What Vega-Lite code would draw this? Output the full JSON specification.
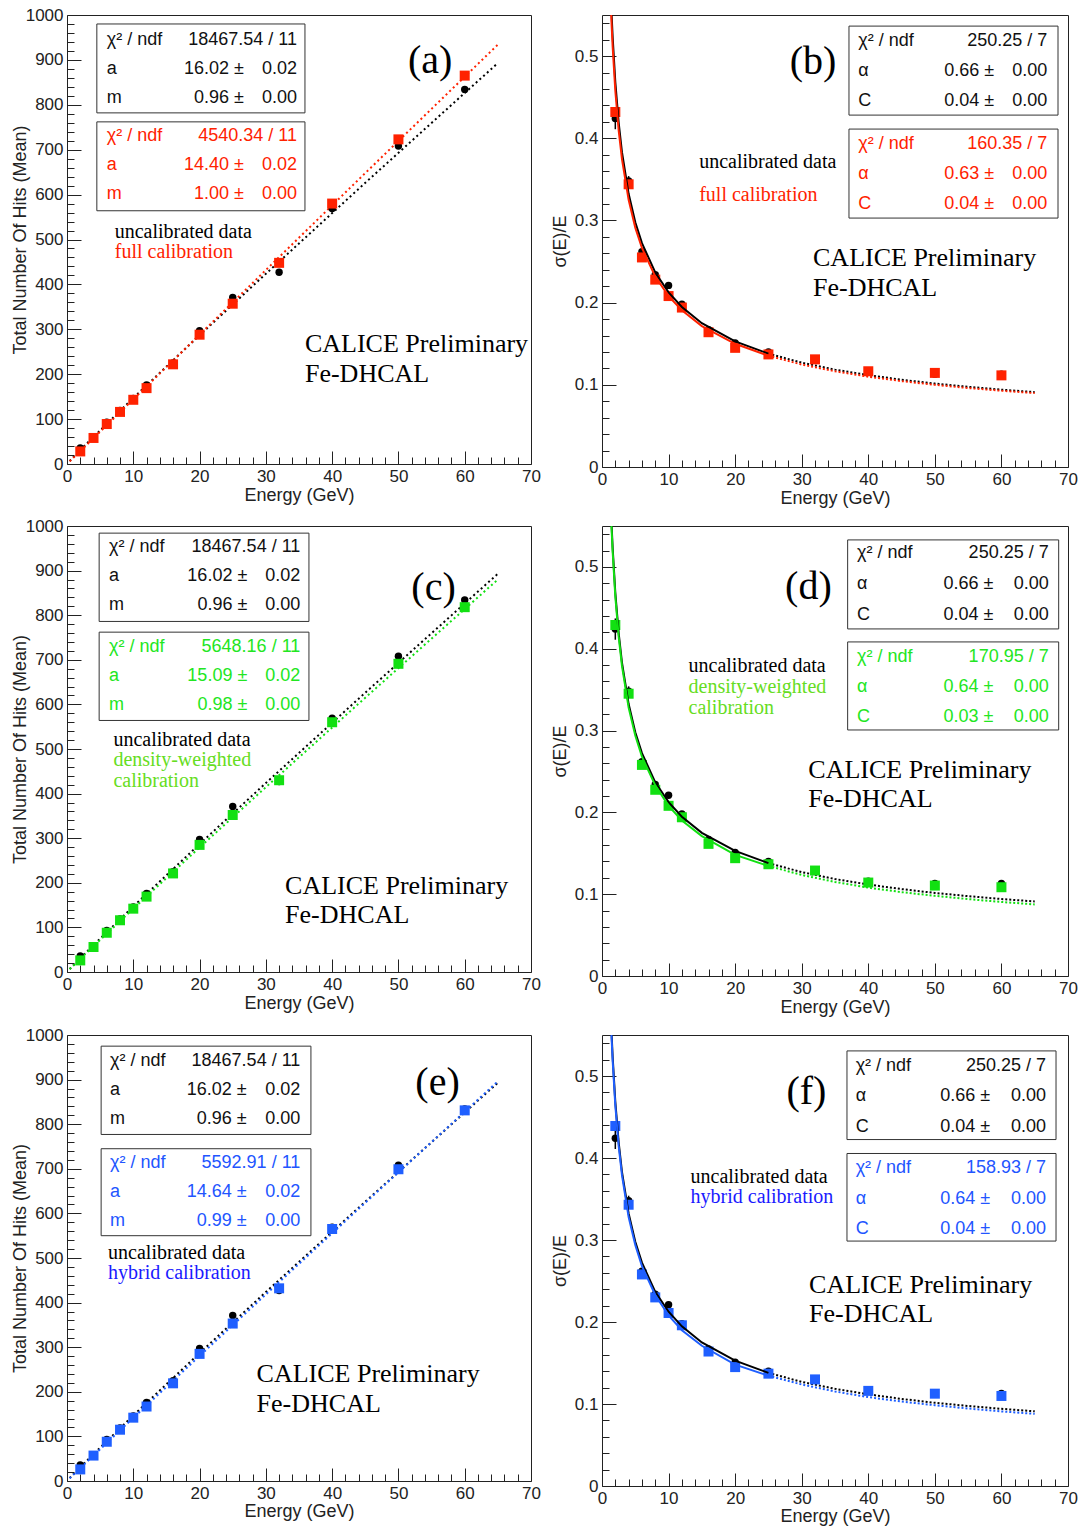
{
"$schema": "https://vega.github.io/schema/vega-lite/v6.json",
"background": "white",
"padding": {"left": 10, "top": 5, "right": 5, "bottom": 0},
"datasets": {
"uncal_lin": [{"E":2,"v":36},{"E":4,"v":59},{"E":6,"v":93},{"E":8,"v":119},{"E":10,"v":146},{"E":12,"v":176},{"E":16,"v":225},{"E":20,"v":297},{"E":25,"v":371},{"E":32,"v":427},{"E":40,"v":569},{"E":50,"v":708},{"E":60,"v":834}],
"full_lin": [{"E":2,"v":28},{"E":4,"v":58},{"E":6,"v":89},{"E":8,"v":116},{"E":10,"v":143},{"E":12,"v":169},{"E":16,"v":222},{"E":20,"v":288},{"E":25,"v":357},{"E":32,"v":448},{"E":40,"v":580},{"E":50,"v":723},{"E":60,"v":865}],
"dens_lin": [{"E":2,"v":26},{"E":4,"v":56},{"E":6,"v":88},{"E":8,"v":116},{"E":10,"v":142},{"E":12,"v":169},{"E":16,"v":221},{"E":20,"v":285},{"E":25,"v":352},{"E":32,"v":430},{"E":40,"v":560},{"E":50,"v":691},{"E":60,"v":818}],
"hyb_lin": [{"E":2,"v":26},{"E":4,"v":57},{"E":6,"v":88},{"E":8,"v":115},{"E":10,"v":142},{"E":12,"v":167},{"E":16,"v":219},{"E":20,"v":285},{"E":25,"v":353},{"E":32,"v":432},{"E":40,"v":565},{"E":50,"v":699},{"E":60,"v":831}],
"uncal_res": [{"E":2,"v":0.424,"lo":0.411,"hi":0.437},{"E":4,"v":0.348,"lo":0.342,"hi":0.354},{"E":6,"v":0.262,"lo":0.258,"hi":0.266},{"E":8,"v":0.234,"lo":0.231,"hi":0.237},{"E":10,"v":0.221,"lo":0.218,"hi":0.224},{"E":12,"v":0.198,"lo":0.195,"hi":0.201},{"E":16,"v":0.167,"lo":0.165,"hi":0.169},{"E":20,"v":0.151,"lo":0.149,"hi":0.153},{"E":25,"v":0.140,"lo":0.138,"hi":0.142},{"E":32,"v":0.130,"lo":0.128,"hi":0.132},{"E":40,"v":0.116,"lo":0.114,"hi":0.118},{"E":50,"v":0.113,"lo":0.111,"hi":0.115},{"E":60,"v":0.113,"lo":0.110,"hi":0.116}],
"full_res": [{"E":2,"v":0.432},{"E":4,"v":0.344},{"E":6,"v":0.255},{"E":8,"v":0.228},{"E":10,"v":0.208},{"E":12,"v":0.194},{"E":16,"v":0.164},{"E":20,"v":0.145},{"E":25,"v":0.137},{"E":32,"v":0.131},{"E":40,"v":0.1165},{"E":50,"v":0.1145},{"E":60,"v":0.1115}],
"dens_res": [{"E":2,"v":0.429},{"E":4,"v":0.345},{"E":6,"v":0.258},{"E":8,"v":0.2276},{"E":10,"v":0.208},{"E":12,"v":0.194},{"E":16,"v":0.1615},{"E":20,"v":0.144},{"E":25,"v":0.1366},{"E":32,"v":0.1289},{"E":40,"v":0.1142},{"E":50,"v":0.1105},{"E":60,"v":0.1085}],
"hyb_res": [{"E":2,"v":0.439},{"E":4,"v":0.343},{"E":6,"v":0.258},{"E":8,"v":0.230},{"E":10,"v":0.211},{"E":12,"v":0.196},{"E":16,"v":0.164},{"E":20,"v":0.145},{"E":25,"v":0.137},{"E":32,"v":0.130},{"E":40,"v":0.116},{"E":50,"v":0.1126},{"E":60,"v":0.1098}],
"fit_lin": [
{"s":"uncal","E":0.4,"v":6.6},{"s":"uncal","E":2,"v":31.2},{"s":"uncal","E":10,"v":147.1},{"s":"uncal","E":20,"v":286.8},{"s":"uncal","E":30,"v":423.7},{"s":"uncal","E":45,"v":626.3},{"s":"uncal","E":65,"v":893},
{"s":"full","E":0.4,"v":5.8},{"s":"full","E":2,"v":28.8},{"s":"full","E":10,"v":144},{"s":"full","E":20,"v":288},{"s":"full","E":30,"v":432},{"s":"full","E":45,"v":648},{"s":"full","E":65,"v":934},
{"s":"dens","E":0.4,"v":6.2},{"s":"dens","E":2,"v":29.7},{"s":"dens","E":10,"v":142.1},{"s":"dens","E":20,"v":279.2},{"s":"dens","E":30,"v":414.4},{"s":"dens","E":45,"v":615.1},{"s":"dens","E":65,"v":880},
{"s":"hyb","E":0.4,"v":5.9},{"s":"hyb","E":2,"v":29.0},{"s":"hyb","E":10,"v":141.7},{"s":"hyb","E":20,"v":280.5},{"s":"hyb","E":30,"v":418.4},{"s":"hyb","E":45,"v":624.0},{"s":"hyb","E":65,"v":896}],
"fit_res": [
{"s":"uncal","p":"solid","E":1.3,"v":0.5802},{"s":"uncal","p":"solid","E":1.45,"v":0.5496},{"s":"uncal","p":"solid","E":1.6,"v":0.5233},{"s":"uncal","p":"solid","E":2,"v":0.4684},{"s":"uncal","p":"solid","E":2.5,"v":0.4193},{"s":"uncal","p":"solid","E":3,"v":0.3831},{"s":"uncal","p":"solid","E":4,"v":0.3324},{"s":"uncal","p":"solid","E":5,"v":0.2979},{"s":"uncal","p":"solid","E":6,"v":0.2724},{"s":"uncal","p":"solid","E":8,"v":0.2367},{"s":"uncal","p":"solid","E":10,"v":0.2125},{"s":"uncal","p":"solid","E":12,"v":0.1947},{"s":"uncal","p":"solid","E":15,"v":0.175},{"s":"uncal","p":"solid","E":20,"v":0.1529},{"s":"uncal","p":"solid","E":25,"v":0.1379},
{"s":"uncal","p":"dot","E":25,"v":0.1379},{"s":"uncal","p":"dot","E":30,"v":0.127},{"s":"uncal","p":"dot","E":35,"v":0.1185},{"s":"uncal","p":"dot","E":40,"v":0.1118},{"s":"uncal","p":"dot","E":45,"v":0.1062},{"s":"uncal","p":"dot","E":50,"v":0.1015},{"s":"uncal","p":"dot","E":55,"v":0.0976},{"s":"uncal","p":"dot","E":60,"v":0.0941},{"s":"uncal","p":"dot","E":65,"v":0.0911},
{"s":"full","p":"solid","E":1.3,"v":0.5672},{"s":"full","p":"solid","E":1.45,"v":0.5372},{"s":"full","p":"solid","E":1.6,"v":0.5115},{"s":"full","p":"solid","E":2,"v":0.4579},{"s":"full","p":"solid","E":2.5,"v":0.41},{"s":"full","p":"solid","E":3,"v":0.3746},{"s":"full","p":"solid","E":4,"v":0.3251},{"s":"full","p":"solid","E":5,"v":0.2913},{"s":"full","p":"solid","E":6,"v":0.2665},{"s":"full","p":"solid","E":8,"v":0.2317},{"s":"full","p":"solid","E":10,"v":0.208},{"s":"full","p":"solid","E":12,"v":0.1907},{"s":"full","p":"solid","E":15,"v":0.1715},{"s":"full","p":"solid","E":20,"v":0.1499},{"s":"full","p":"solid","E":25,"v":0.1354},
{"s":"full","p":"dot","E":25,"v":0.1354},{"s":"full","p":"dot","E":30,"v":0.1247},{"s":"full","p":"dot","E":35,"v":0.1165},{"s":"full","p":"dot","E":40,"v":0.1099},{"s":"full","p":"dot","E":45,"v":0.1045},{"s":"full","p":"dot","E":50,"v":0.1},{"s":"full","p":"dot","E":55,"v":0.0961},{"s":"full","p":"dot","E":60,"v":0.0928},{"s":"full","p":"dot","E":65,"v":0.0899},
{"s":"dens","p":"solid","E":1.3,"v":0.575},{"s":"dens","p":"solid","E":1.45,"v":0.545},{"s":"dens","p":"solid","E":1.6,"v":0.519},{"s":"dens","p":"solid","E":2,"v":0.464},{"s":"dens","p":"solid","E":2.5,"v":0.415},{"s":"dens","p":"solid","E":3,"v":0.379},{"s":"dens","p":"solid","E":4,"v":0.328},{"s":"dens","p":"solid","E":5,"v":0.294},{"s":"dens","p":"solid","E":6,"v":0.268},{"s":"dens","p":"solid","E":8,"v":0.233},{"s":"dens","p":"solid","E":10,"v":0.208},{"s":"dens","p":"solid","E":12,"v":0.19},{"s":"dens","p":"solid","E":15,"v":0.171},{"s":"dens","p":"solid","E":20,"v":0.148},{"s":"dens","p":"solid","E":25,"v":0.1345},
{"s":"dens","p":"dot","E":25,"v":0.1345},{"s":"dens","p":"dot","E":30,"v":0.1235},{"s":"dens","p":"dot","E":35,"v":0.115},{"s":"dens","p":"dot","E":40,"v":0.108},{"s":"dens","p":"dot","E":45,"v":0.1025},{"s":"dens","p":"dot","E":50,"v":0.098},{"s":"dens","p":"dot","E":55,"v":0.094},{"s":"dens","p":"dot","E":60,"v":0.0905},{"s":"dens","p":"dot","E":65,"v":0.0875},
{"s":"hyb","p":"solid","E":1.3,"v":0.575},{"s":"hyb","p":"solid","E":1.45,"v":0.545},{"s":"hyb","p":"solid","E":1.6,"v":0.519},{"s":"hyb","p":"solid","E":2,"v":0.464},{"s":"hyb","p":"solid","E":2.5,"v":0.415},{"s":"hyb","p":"solid","E":3,"v":0.379},{"s":"hyb","p":"solid","E":4,"v":0.328},{"s":"hyb","p":"solid","E":5,"v":0.294},{"s":"hyb","p":"solid","E":6,"v":0.268},{"s":"hyb","p":"solid","E":8,"v":0.233},{"s":"hyb","p":"solid","E":10,"v":0.208},{"s":"hyb","p":"solid","E":12,"v":0.19},{"s":"hyb","p":"solid","E":15,"v":0.171},{"s":"hyb","p":"solid","E":20,"v":0.148},{"s":"hyb","p":"solid","E":25,"v":0.1345},
{"s":"hyb","p":"dot","E":25,"v":0.1345},{"s":"hyb","p":"dot","E":30,"v":0.1238},{"s":"hyb","p":"dot","E":35,"v":0.1153},{"s":"hyb","p":"dot","E":40,"v":0.1084},{"s":"hyb","p":"dot","E":45,"v":0.103},{"s":"hyb","p":"dot","E":50,"v":0.0985},{"s":"hyb","p":"dot","E":55,"v":0.0945},{"s":"hyb","p":"dot","E":60,"v":0.091},{"s":"hyb","p":"dot","E":65,"v":0.088}]
},
"columns": 2,
"spacing": {"row": 59, "column": 71},
"bounds": "flush",
"concat": [
{"width": 464, "height": 449,
 "layer": [
  {"data": {"name": "fit_lin"}, "transform": [{"filter": "datum.s === 'uncal'"}], "mark": {"type": "line", "color": "#000", "strokeWidth": 2, "strokeDash": [2,3], "clip": true},
   "encoding": {
    "x": {"field": "E", "type": "quantitative", "scale": {"domain": [0,70], "nice": false}, "axis": {"title": "Energy (GeV)", "values": [0,2,4,6,8,10,12,14,16,18,20,22,24,26,28,30,32,34,36,38,40,42,44,46,48,50,52,54,56,58,60,62,64,66,68,70], "tickCount": 200, "format": "d", "labelOverlap": false, "labelExpr": "datum.value % 10 === 0 ? datum.label : ''", "tickSize": {"condition": {"test": "datum.value % 10 === 0", "value": -13}, "value": -7}, "labelPadding": 17, "titlePadding": -4}},
    "y": {"field": "v", "type": "quantitative", "scale": {"domain": [0,1000], "nice": false}, "axis": {"title": "Total Number Of Hits (Mean)", "values": [0,20,40,60,80,100,120,140,160,180,200,220,240,260,280,300,320,340,360,380,400,420,440,460,480,500,520,540,560,580,600,620,640,660,680,700,720,740,760,780,800,820,840,860,880,900,920,940,960,980,1000], "tickCount": 200, "format": "d", "labelOverlap": false, "labelExpr": "datum.value % 100 === 0 ? datum.label : ''", "tickSize": {"condition": {"test": "datum.value % 100 === 0", "value": -14}, "value": -7}, "labelPadding": 18, "titlePadding": -4}}}},
  {"data": {"name": "fit_lin"}, "transform": [{"filter": "datum.s === 'full'"}], "mark": {"type": "line", "color": "#ff2200", "strokeWidth": 2, "strokeDash": [2,3], "clip": true}, "encoding": {"x": {"field": "E", "type": "quantitative"}, "y": {"field": "v", "type": "quantitative"}}},
  {"data": {"name": "uncal_lin"}, "mark": {"type": "point", "shape": "circle", "filled": true, "color": "#000", "size": 55, "opacity": 1}, "encoding": {"x": {"field": "E", "type": "quantitative"}, "y": {"field": "v", "type": "quantitative"}}},
  {"data": {"name": "full_lin"}, "mark": {"type": "point", "shape": "square", "filled": true, "color": "#ff2200", "size": 100, "opacity": 1}, "encoding": {"x": {"field": "E", "type": "quantitative"}, "y": {"field": "v", "type": "quantitative"}}},
  {"data": {"values": [{}]}, "mark": {"type": "rect", "fill": "#fff", "stroke": "#333", "strokeWidth": 1}, "encoding": {"x": {"datum": 4.5}, "x2": {"datum": 35.9}, "y": {"datum": 980}, "y2": {"datum": 782}}},
  {"data": {"values": [{}]}, "mark": {"type": "rect", "fill": "#fff", "stroke": "#333", "strokeWidth": 1}, "encoding": {"x": {"datum": 4.5}, "x2": {"datum": 35.9}, "y": {"datum": 762}, "y2": {"datum": 564}}},
  {"data": {"values": [{}]}, "mark": {"type": "text", "align": "left", "baseline": "middle", "font": "Liberation Sans", "fontSize": 18, "lineHeight": 29, "color": "#111", "text": ["χ² / ndf", "a", "m"]}, "encoding": {"x": {"datum": 6.0}, "y": {"datum": 944}}},
  {"data": {"values": [{}]}, "mark": {"type": "text", "align": "right", "baseline": "middle", "font": "Liberation Sans", "fontSize": 18, "lineHeight": 29, "color": "#111", "text": ["", "16.02 ±", "0.96 ±"]}, "encoding": {"x": {"datum": 26.7}, "y": {"datum": 944}}},
  {"data": {"values": [{}]}, "mark": {"type": "text", "align": "right", "baseline": "middle", "font": "Liberation Sans", "fontSize": 18, "lineHeight": 29, "color": "#111", "text": ["18467.54 / 11", "0.02", "0.00"]}, "encoding": {"x": {"datum": 34.7}, "y": {"datum": 944}}},
  {"data": {"values": [{}]}, "mark": {"type": "text", "align": "left", "baseline": "middle", "font": "Liberation Sans", "fontSize": 18, "lineHeight": 29, "color": "#ff2200", "text": ["χ² / ndf", "a", "m"]}, "encoding": {"x": {"datum": 6.0}, "y": {"datum": 730}}},
  {"data": {"values": [{}]}, "mark": {"type": "text", "align": "right", "baseline": "middle", "font": "Liberation Sans", "fontSize": 18, "lineHeight": 29, "color": "#ff2200", "text": ["", "14.40 ±", "1.00 ±"]}, "encoding": {"x": {"datum": 26.7}, "y": {"datum": 730}}},
  {"data": {"values": [{}]}, "mark": {"type": "text", "align": "right", "baseline": "middle", "font": "Liberation Sans", "fontSize": 18, "lineHeight": 29, "color": "#ff2200", "text": ["4540.34 / 11", "0.02", "0.00"]}, "encoding": {"x": {"datum": 34.7}, "y": {"datum": 730}}},
  {"data": {"values": [{}]}, "mark": {"type": "text", "align": "left", "baseline": "middle", "font": "Liberation Serif", "fontSize": 20, "color": "#000", "text": "uncalibrated data"}, "encoding": {"x": {"datum": 7.2}, "y": {"datum": 517}}},
  {"data": {"values": [{}]}, "mark": {"type": "text", "align": "left", "baseline": "middle", "font": "Liberation Serif", "fontSize": 20, "color": "#ff2200", "text": "full calibration"}, "encoding": {"x": {"datum": 7.2}, "y": {"datum": 472}}},
  {"data": {"values": [{}]}, "mark": {"type": "text", "align": "left", "baseline": "middle", "font": "Liberation Serif", "fontSize": 26, "lineHeight": 30, "color": "#000", "text": ["CALICE Preliminary", "Fe-DHCAL"]}, "encoding": {"x": {"datum": 35.9}, "y": {"datum": 267}}},
  {"data": {"values": [{}]}, "mark": {"type": "text", "align": "center", "baseline": "middle", "font": "Liberation Serif", "fontSize": 40, "color": "#000", "text": "(a)"}, "encoding": {"x": {"datum": 54.8}, "y": {"datum": 897}}}
 ]
},
{"width": 466, "height": 452,
 "layer": [
  {"data": {"name": "fit_res"}, "transform": [{"filter": "datum.s === 'uncal' && datum.p === 'dot'"}], "mark": {"type": "line", "color": "#000", "strokeWidth": 2, "strokeDash": [2,2], "clip": true},
   "encoding": {
    "x": {"field": "E", "type": "quantitative", "scale": {"domain": [0,70], "nice": false}, "axis": {"title": "Energy (GeV)", "values": [0,2,4,6,8,10,12,14,16,18,20,22,24,26,28,30,32,34,36,38,40,42,44,46,48,50,52,54,56,58,60,62,64,66,68,70], "tickCount": 200, "format": "d", "labelOverlap": false, "labelExpr": "datum.value % 10 === 0 ? datum.label : ''", "tickSize": {"condition": {"test": "datum.value % 10 === 0", "value": -13}, "value": -7}, "labelPadding": 17, "titlePadding": -4}},
    "y": {"field": "v", "type": "quantitative", "scale": {"domain": [0,0.55], "nice": false}, "axis": {"title": "σ(E)/E", "values": [0,0.02,0.04,0.06,0.08,0.1,0.12,0.14,0.16,0.18,0.2,0.22,0.24,0.26,0.28,0.3,0.32,0.34,0.36,0.38,0.4,0.42,0.44,0.46,0.48,0.5,0.52,0.54], "tickCount": 200, "format": ".1~f", "labelOverlap": false, "labelExpr": "abs(datum.value*10 - round(datum.value*10)) < 0.001 ? datum.label : ''", "tickSize": {"condition": {"test": "abs(datum.value*10 - round(datum.value*10)) < 0.001", "value": -14}, "value": -7}, "labelPadding": 18, "titlePadding": 5}}}},
  {"data": {"name": "fit_res"}, "transform": [{"filter": "datum.s === 'full' && datum.p === 'dot'"}], "mark": {"type": "line", "color": "#ff2200", "strokeWidth": 2, "strokeDash": [2,2], "clip": true}, "encoding": {"x": {"field": "E", "type": "quantitative"}, "y": {"field": "v", "type": "quantitative"}}},
  {"data": {"name": "uncal_res"}, "mark": {"type": "rule", "color": "#000", "strokeWidth": 1.5}, "encoding": {"x": {"field": "E", "type": "quantitative"}, "y": {"field": "lo", "type": "quantitative"}, "y2": {"field": "hi"}}},
  {"data": {"name": "uncal_res"}, "mark": {"type": "point", "shape": "circle", "filled": true, "color": "#000", "size": 55, "opacity": 1}, "encoding": {"x": {"field": "E", "type": "quantitative"}, "y": {"field": "v", "type": "quantitative"}}},
  {"data": {"name": "full_res"}, "mark": {"type": "point", "shape": "square", "filled": true, "color": "#ff2200", "size": 100, "opacity": 1}, "encoding": {"x": {"field": "E", "type": "quantitative"}, "y": {"field": "v", "type": "quantitative"}}},
  {"data": {"name": "fit_res"}, "transform": [{"filter": "datum.s === 'uncal' && datum.p === 'solid'"}], "mark": {"type": "line", "color": "#000", "strokeWidth": 2, "clip": true}, "encoding": {"x": {"field": "E", "type": "quantitative"}, "y": {"field": "v", "type": "quantitative"}}},
  {"data": {"name": "fit_res"}, "transform": [{"filter": "datum.s === 'full' && datum.p === 'solid'"}], "mark": {"type": "line", "color": "#ff2200", "strokeWidth": 2, "clip": true}, "encoding": {"x": {"field": "E", "type": "quantitative"}, "y": {"field": "v", "type": "quantitative"}}},
  {"data": {"values": [{}]}, "mark": {"type": "rect", "fill": "#fff", "stroke": "#333", "strokeWidth": 1}, "encoding": {"x": {"datum": 37.1}, "x2": {"datum": 68.5}, "y": {"datum": 0.5365}, "y2": {"datum": 0.4282}}},
  {"data": {"values": [{}]}, "mark": {"type": "rect", "fill": "#fff", "stroke": "#333", "strokeWidth": 1}, "encoding": {"x": {"datum": 37.1}, "x2": {"datum": 68.5}, "y": {"datum": 0.4112}, "y2": {"datum": 0.3029}}},
  {"data": {"values": [{}]}, "mark": {"type": "text", "align": "left", "baseline": "middle", "font": "Liberation Sans", "fontSize": 18, "lineHeight": 30, "color": "#111", "text": ["χ² / ndf", "α", "C"]}, "encoding": {"x": {"datum": 38.5}, "y": {"datum": 0.5182}}},
  {"data": {"values": [{}]}, "mark": {"type": "text", "align": "right", "baseline": "middle", "font": "Liberation Sans", "fontSize": 18, "lineHeight": 30, "color": "#111", "text": ["", "0.66 ±", "0.04 ±"]}, "encoding": {"x": {"datum": 58.9}, "y": {"datum": 0.5182}}},
  {"data": {"values": [{}]}, "mark": {"type": "text", "align": "right", "baseline": "middle", "font": "Liberation Sans", "fontSize": 18, "lineHeight": 30, "color": "#111", "text": ["250.25 / 7", "0.00", "0.00"]}, "encoding": {"x": {"datum": 66.9}, "y": {"datum": 0.5182}}},
  {"data": {"values": [{}]}, "mark": {"type": "text", "align": "left", "baseline": "middle", "font": "Liberation Sans", "fontSize": 18, "lineHeight": 30, "color": "#ff2200", "text": ["χ² / ndf", "α", "C"]}, "encoding": {"x": {"datum": 38.5}, "y": {"datum": 0.3929}}},
  {"data": {"values": [{}]}, "mark": {"type": "text", "align": "right", "baseline": "middle", "font": "Liberation Sans", "fontSize": 18, "lineHeight": 30, "color": "#ff2200", "text": ["", "0.63 ±", "0.04 ±"]}, "encoding": {"x": {"datum": 58.9}, "y": {"datum": 0.3929}}},
  {"data": {"values": [{}]}, "mark": {"type": "text", "align": "right", "baseline": "middle", "font": "Liberation Sans", "fontSize": 18, "lineHeight": 30, "color": "#ff2200", "text": ["160.35 / 7", "0.00", "0.00"]}, "encoding": {"x": {"datum": 66.9}, "y": {"datum": 0.3929}}},
  {"data": {"values": [{}]}, "mark": {"type": "text", "align": "left", "baseline": "middle", "font": "Liberation Serif", "fontSize": 20, "color": "#000", "text": "uncalibrated data"}, "encoding": {"x": {"datum": 14.6}, "y": {"datum": 0.371}}},
  {"data": {"values": [{}]}, "mark": {"type": "text", "align": "left", "baseline": "middle", "font": "Liberation Serif", "fontSize": 20, "color": "#ff2200", "text": "full calibration"}, "encoding": {"x": {"datum": 14.6}, "y": {"datum": 0.331}}},
  {"data": {"values": [{}]}, "mark": {"type": "text", "align": "left", "baseline": "middle", "font": "Liberation Serif", "fontSize": 26, "lineHeight": 30, "color": "#000", "text": ["CALICE Preliminary", "Fe-DHCAL"]}, "encoding": {"x": {"datum": 31.7}, "y": {"datum": 0.2543}}},
  {"data": {"values": [{}]}, "mark": {"type": "text", "align": "center", "baseline": "middle", "font": "Liberation Serif", "fontSize": 40, "color": "#000", "text": "(b)"}, "encoding": {"x": {"datum": 31.7}, "y": {"datum": 0.4927}}}
 ]
},
{"width": 464, "height": 446,
 "layer": [
  {"data": {"name": "fit_lin"}, "transform": [{"filter": "datum.s === 'uncal'"}], "mark": {"type": "line", "color": "#000", "strokeWidth": 2, "strokeDash": [2,3], "clip": true},
   "encoding": {
    "x": {"field": "E", "type": "quantitative", "scale": {"domain": [0,70], "nice": false}, "axis": {"title": "Energy (GeV)", "values": [0,2,4,6,8,10,12,14,16,18,20,22,24,26,28,30,32,34,36,38,40,42,44,46,48,50,52,54,56,58,60,62,64,66,68,70], "tickCount": 200, "format": "d", "labelOverlap": false, "labelExpr": "datum.value % 10 === 0 ? datum.label : ''", "tickSize": {"condition": {"test": "datum.value % 10 === 0", "value": -13}, "value": -7}, "labelPadding": 17, "titlePadding": -4}},
    "y": {"field": "v", "type": "quantitative", "scale": {"domain": [0,1000], "nice": false}, "axis": {"title": "Total Number Of Hits (Mean)", "values": [0,20,40,60,80,100,120,140,160,180,200,220,240,260,280,300,320,340,360,380,400,420,440,460,480,500,520,540,560,580,600,620,640,660,680,700,720,740,760,780,800,820,840,860,880,900,920,940,960,980,1000], "tickCount": 200, "format": "d", "labelOverlap": false, "labelExpr": "datum.value % 100 === 0 ? datum.label : ''", "tickSize": {"condition": {"test": "datum.value % 100 === 0", "value": -14}, "value": -7}, "labelPadding": 18, "titlePadding": -4}}}},
  {"data": {"name": "fit_lin"}, "transform": [{"filter": "datum.s === 'dens'"}], "mark": {"type": "line", "color": "#12e012", "strokeWidth": 2, "strokeDash": [2,3], "clip": true}, "encoding": {"x": {"field": "E", "type": "quantitative"}, "y": {"field": "v", "type": "quantitative"}}},
  {"data": {"name": "uncal_lin"}, "mark": {"type": "point", "shape": "circle", "filled": true, "color": "#000", "size": 55, "opacity": 1}, "encoding": {"x": {"field": "E", "type": "quantitative"}, "y": {"field": "v", "type": "quantitative"}}},
  {"data": {"name": "dens_lin"}, "mark": {"type": "point", "shape": "square", "filled": true, "color": "#12e012", "size": 100, "opacity": 1}, "encoding": {"x": {"field": "E", "type": "quantitative"}, "y": {"field": "v", "type": "quantitative"}}},
  {"data": {"values": [{}]}, "mark": {"type": "rect", "fill": "#fff", "stroke": "#333", "strokeWidth": 1}, "encoding": {"x": {"datum": 4.85}, "x2": {"datum": 36.5}, "y": {"datum": 984}, "y2": {"datum": 786}}},
  {"data": {"values": [{}]}, "mark": {"type": "rect", "fill": "#fff", "stroke": "#333", "strokeWidth": 1}, "encoding": {"x": {"datum": 4.85}, "x2": {"datum": 36.5}, "y": {"datum": 762}, "y2": {"datum": 564}}},
  {"data": {"values": [{}]}, "mark": {"type": "text", "align": "left", "baseline": "middle", "font": "Liberation Sans", "fontSize": 18, "lineHeight": 29, "color": "#111", "text": ["χ² / ndf", "a", "m"]}, "encoding": {"x": {"datum": 6.35}, "y": {"datum": 953}}},
  {"data": {"values": [{}]}, "mark": {"type": "text", "align": "right", "baseline": "middle", "font": "Liberation Sans", "fontSize": 18, "lineHeight": 29, "color": "#111", "text": ["", "16.02 ±", "0.96 ±"]}, "encoding": {"x": {"datum": 27.2}, "y": {"datum": 953}}},
  {"data": {"values": [{}]}, "mark": {"type": "text", "align": "right", "baseline": "middle", "font": "Liberation Sans", "fontSize": 18, "lineHeight": 29, "color": "#111", "text": ["18467.54 / 11", "0.02", "0.00"]}, "encoding": {"x": {"datum": 35.2}, "y": {"datum": 953}}},
  {"data": {"values": [{}]}, "mark": {"type": "text", "align": "left", "baseline": "middle", "font": "Liberation Sans", "fontSize": 18, "lineHeight": 29, "color": "#22e622", "text": ["χ² / ndf", "a", "m"]}, "encoding": {"x": {"datum": 6.35}, "y": {"datum": 728}}},
  {"data": {"values": [{}]}, "mark": {"type": "text", "align": "right", "baseline": "middle", "font": "Liberation Sans", "fontSize": 18, "lineHeight": 29, "color": "#22e622", "text": ["", "15.09 ±", "0.98 ±"]}, "encoding": {"x": {"datum": 27.2}, "y": {"datum": 728}}},
  {"data": {"values": [{}]}, "mark": {"type": "text", "align": "right", "baseline": "middle", "font": "Liberation Sans", "fontSize": 18, "lineHeight": 29, "color": "#22e622", "text": ["5648.16 / 11", "0.02", "0.00"]}, "encoding": {"x": {"datum": 35.2}, "y": {"datum": 728}}},
  {"data": {"values": [{}]}, "mark": {"type": "text", "align": "left", "baseline": "middle", "font": "Liberation Serif", "fontSize": 20, "color": "#000", "text": "uncalibrated data"}, "encoding": {"x": {"datum": 7.0}, "y": {"datum": 521}}},
  {"data": {"values": [{}]}, "mark": {"type": "text", "align": "left", "baseline": "middle", "font": "Liberation Serif", "fontSize": 20, "lineHeight": 21, "color": "#66dd22", "text": ["density-weighted", "calibration"]}, "encoding": {"x": {"datum": 7.0}, "y": {"datum": 476}}},
  {"data": {"values": [{}]}, "mark": {"type": "text", "align": "left", "baseline": "middle", "font": "Liberation Serif", "fontSize": 26, "lineHeight": 29, "color": "#000", "text": ["CALICE Preliminary", "Fe-DHCAL"]}, "encoding": {"x": {"datum": 32.9}, "y": {"datum": 193}}},
  {"data": {"values": [{}]}, "mark": {"type": "text", "align": "center", "baseline": "middle", "font": "Liberation Serif", "fontSize": 40, "color": "#000", "text": "(c)"}, "encoding": {"x": {"datum": 55.3}, "y": {"datum": 861}}}
 ]
},
{"width": 466, "height": 450,
 "layer": [
  {"data": {"name": "fit_res"}, "transform": [{"filter": "datum.s === 'uncal' && datum.p === 'dot'"}], "mark": {"type": "line", "color": "#000", "strokeWidth": 2, "strokeDash": [2,2], "clip": true},
   "encoding": {
    "x": {"field": "E", "type": "quantitative", "scale": {"domain": [0,70], "nice": false}, "axis": {"title": "Energy (GeV)", "values": [0,2,4,6,8,10,12,14,16,18,20,22,24,26,28,30,32,34,36,38,40,42,44,46,48,50,52,54,56,58,60,62,64,66,68,70], "tickCount": 200, "format": "d", "labelOverlap": false, "labelExpr": "datum.value % 10 === 0 ? datum.label : ''", "tickSize": {"condition": {"test": "datum.value % 10 === 0", "value": -13}, "value": -7}, "labelPadding": 17, "titlePadding": -4}},
    "y": {"field": "v", "type": "quantitative", "scale": {"domain": [0,0.55], "nice": false}, "axis": {"title": "σ(E)/E", "values": [0,0.02,0.04,0.06,0.08,0.1,0.12,0.14,0.16,0.18,0.2,0.22,0.24,0.26,0.28,0.3,0.32,0.34,0.36,0.38,0.4,0.42,0.44,0.46,0.48,0.5,0.52,0.54], "tickCount": 200, "format": ".1~f", "labelOverlap": false, "labelExpr": "abs(datum.value*10 - round(datum.value*10)) < 0.001 ? datum.label : ''", "tickSize": {"condition": {"test": "abs(datum.value*10 - round(datum.value*10)) < 0.001", "value": -14}, "value": -7}, "labelPadding": 18, "titlePadding": 5}}}},
  {"data": {"name": "fit_res"}, "transform": [{"filter": "datum.s === 'dens' && datum.p === 'dot'"}], "mark": {"type": "line", "color": "#12e012", "strokeWidth": 2, "strokeDash": [2,2], "clip": true}, "encoding": {"x": {"field": "E", "type": "quantitative"}, "y": {"field": "v", "type": "quantitative"}}},
  {"data": {"name": "uncal_res"}, "mark": {"type": "rule", "color": "#000", "strokeWidth": 1.5}, "encoding": {"x": {"field": "E", "type": "quantitative"}, "y": {"field": "lo", "type": "quantitative"}, "y2": {"field": "hi"}}},
  {"data": {"name": "uncal_res"}, "mark": {"type": "point", "shape": "circle", "filled": true, "color": "#000", "size": 55, "opacity": 1}, "encoding": {"x": {"field": "E", "type": "quantitative"}, "y": {"field": "v", "type": "quantitative"}}},
  {"data": {"name": "dens_res"}, "mark": {"type": "point", "shape": "square", "filled": true, "color": "#12e012", "size": 100, "opacity": 1}, "encoding": {"x": {"field": "E", "type": "quantitative"}, "y": {"field": "v", "type": "quantitative"}}},
  {"data": {"name": "fit_res"}, "transform": [{"filter": "datum.s === 'uncal' && datum.p === 'solid'"}], "mark": {"type": "line", "color": "#000", "strokeWidth": 2, "clip": true}, "encoding": {"x": {"field": "E", "type": "quantitative"}, "y": {"field": "v", "type": "quantitative"}}},
  {"data": {"name": "fit_res"}, "transform": [{"filter": "datum.s === 'dens' && datum.p === 'solid'"}], "mark": {"type": "line", "color": "#12e012", "strokeWidth": 2, "clip": true}, "encoding": {"x": {"field": "E", "type": "quantitative"}, "y": {"field": "v", "type": "quantitative"}}},
  {"data": {"values": [{}]}, "mark": {"type": "rect", "fill": "#fff", "stroke": "#333", "strokeWidth": 1}, "encoding": {"x": {"datum": 36.9}, "x2": {"datum": 68.6}, "y": {"datum": 0.533}, "y2": {"datum": 0.4242}}},
  {"data": {"values": [{}]}, "mark": {"type": "rect", "fill": "#fff", "stroke": "#333", "strokeWidth": 1}, "encoding": {"x": {"datum": 36.9}, "x2": {"datum": 68.6}, "y": {"datum": 0.4083}, "y2": {"datum": 0.3007}}},
  {"data": {"values": [{}]}, "mark": {"type": "text", "align": "left", "baseline": "middle", "font": "Liberation Sans", "fontSize": 18, "lineHeight": 31, "color": "#111", "text": ["χ² / ndf", "α", "C"]}, "encoding": {"x": {"datum": 38.3}, "y": {"datum": 0.5171}}},
  {"data": {"values": [{}]}, "mark": {"type": "text", "align": "right", "baseline": "middle", "font": "Liberation Sans", "fontSize": 18, "lineHeight": 31, "color": "#111", "text": ["", "0.66 ±", "0.04 ±"]}, "encoding": {"x": {"datum": 58.8}, "y": {"datum": 0.5171}}},
  {"data": {"values": [{}]}, "mark": {"type": "text", "align": "right", "baseline": "middle", "font": "Liberation Sans", "fontSize": 18, "lineHeight": 31, "color": "#111", "text": ["250.25 / 7", "0.00", "0.00"]}, "encoding": {"x": {"datum": 67.1}, "y": {"datum": 0.5171}}},
  {"data": {"values": [{}]}, "mark": {"type": "text", "align": "left", "baseline": "middle", "font": "Liberation Sans", "fontSize": 18, "lineHeight": 30, "color": "#22e622", "text": ["χ² / ndf", "α", "C"]}, "encoding": {"x": {"datum": 38.3}, "y": {"datum": 0.39}}},
  {"data": {"values": [{}]}, "mark": {"type": "text", "align": "right", "baseline": "middle", "font": "Liberation Sans", "fontSize": 18, "lineHeight": 30, "color": "#22e622", "text": ["", "0.64 ±", "0.03 ±"]}, "encoding": {"x": {"datum": 58.8}, "y": {"datum": 0.39}}},
  {"data": {"values": [{}]}, "mark": {"type": "text", "align": "right", "baseline": "middle", "font": "Liberation Sans", "fontSize": 18, "lineHeight": 30, "color": "#22e622", "text": ["170.95 / 7", "0.00", "0.00"]}, "encoding": {"x": {"datum": 67.1}, "y": {"datum": 0.39}}},
  {"data": {"values": [{}]}, "mark": {"type": "text", "align": "left", "baseline": "middle", "font": "Liberation Serif", "fontSize": 20, "color": "#000", "text": "uncalibrated data"}, "encoding": {"x": {"datum": 13.0}, "y": {"datum": 0.379}}},
  {"data": {"values": [{}]}, "mark": {"type": "text", "align": "left", "baseline": "middle", "font": "Liberation Serif", "fontSize": 20, "lineHeight": 21, "color": "#66dd22", "text": ["density-weighted", "calibration"]}, "encoding": {"x": {"datum": 13.0}, "y": {"datum": 0.3533}}},
  {"data": {"values": [{}]}, "mark": {"type": "text", "align": "left", "baseline": "middle", "font": "Liberation Serif", "fontSize": 26, "lineHeight": 29, "color": "#000", "text": ["CALICE Preliminary", "Fe-DHCAL"]}, "encoding": {"x": {"datum": 31.0}, "y": {"datum": 0.2518}}},
  {"data": {"values": [{}]}, "mark": {"type": "text", "align": "center", "baseline": "middle", "font": "Liberation Serif", "fontSize": 40, "color": "#000", "text": "(d)"}, "encoding": {"x": {"datum": 31.0}, "y": {"datum": 0.4756}}}
 ]
},
{"width": 464, "height": 446,
 "layer": [
  {"data": {"name": "fit_lin"}, "transform": [{"filter": "datum.s === 'uncal'"}], "mark": {"type": "line", "color": "#000", "strokeWidth": 2, "strokeDash": [2,3], "clip": true},
   "encoding": {
    "x": {"field": "E", "type": "quantitative", "scale": {"domain": [0,70], "nice": false}, "axis": {"title": "Energy (GeV)", "values": [0,2,4,6,8,10,12,14,16,18,20,22,24,26,28,30,32,34,36,38,40,42,44,46,48,50,52,54,56,58,60,62,64,66,68,70], "tickCount": 200, "format": "d", "labelOverlap": false, "labelExpr": "datum.value % 10 === 0 ? datum.label : ''", "tickSize": {"condition": {"test": "datum.value % 10 === 0", "value": -13}, "value": -7}, "labelPadding": 17, "titlePadding": -5}},
    "y": {"field": "v", "type": "quantitative", "scale": {"domain": [0,1000], "nice": false}, "axis": {"title": "Total Number Of Hits (Mean)", "values": [0,20,40,60,80,100,120,140,160,180,200,220,240,260,280,300,320,340,360,380,400,420,440,460,480,500,520,540,560,580,600,620,640,660,680,700,720,740,760,780,800,820,840,860,880,900,920,940,960,980,1000], "tickCount": 200, "format": "d", "labelOverlap": false, "labelExpr": "datum.value % 100 === 0 ? datum.label : ''", "tickSize": {"condition": {"test": "datum.value % 100 === 0", "value": -14}, "value": -7}, "labelPadding": 18, "titlePadding": -4}}}},
  {"data": {"name": "fit_lin"}, "transform": [{"filter": "datum.s === 'hyb'"}], "mark": {"type": "line", "color": "#1f5fff", "strokeWidth": 2, "strokeDash": [2,3], "clip": true}, "encoding": {"x": {"field": "E", "type": "quantitative"}, "y": {"field": "v", "type": "quantitative"}}},
  {"data": {"name": "uncal_lin"}, "mark": {"type": "point", "shape": "circle", "filled": true, "color": "#000", "size": 55, "opacity": 1}, "encoding": {"x": {"field": "E", "type": "quantitative"}, "y": {"field": "v", "type": "quantitative"}}},
  {"data": {"name": "hyb_lin"}, "mark": {"type": "point", "shape": "square", "filled": true, "color": "#1f5fff", "size": 100, "opacity": 1}, "encoding": {"x": {"field": "E", "type": "quantitative"}, "y": {"field": "v", "type": "quantitative"}}},
  {"data": {"values": [{}]}, "mark": {"type": "rect", "fill": "#fff", "stroke": "#333", "strokeWidth": 1}, "encoding": {"x": {"datum": 5.15}, "x2": {"datum": 36.8}, "y": {"datum": 975}, "y2": {"datum": 777}}},
  {"data": {"values": [{}]}, "mark": {"type": "rect", "fill": "#fff", "stroke": "#333", "strokeWidth": 1}, "encoding": {"x": {"datum": 5.15}, "x2": {"datum": 36.8}, "y": {"datum": 745}, "y2": {"datum": 550}}},
  {"data": {"values": [{}]}, "mark": {"type": "text", "align": "left", "baseline": "middle", "font": "Liberation Sans", "fontSize": 18, "lineHeight": 29, "color": "#111", "text": ["χ² / ndf", "a", "m"]}, "encoding": {"x": {"datum": 6.5}, "y": {"datum": 941}}},
  {"data": {"values": [{}]}, "mark": {"type": "text", "align": "right", "baseline": "middle", "font": "Liberation Sans", "fontSize": 18, "lineHeight": 29, "color": "#111", "text": ["", "16.02 ±", "0.96 ±"]}, "encoding": {"x": {"datum": 27.1}, "y": {"datum": 941}}},
  {"data": {"values": [{}]}, "mark": {"type": "text", "align": "right", "baseline": "middle", "font": "Liberation Sans", "fontSize": 18, "lineHeight": 29, "color": "#111", "text": ["18467.54 / 11", "0.02", "0.00"]}, "encoding": {"x": {"datum": 35.2}, "y": {"datum": 941}}},
  {"data": {"values": [{}]}, "mark": {"type": "text", "align": "left", "baseline": "middle", "font": "Liberation Sans", "fontSize": 18, "lineHeight": 29, "color": "#2255ff", "text": ["χ² / ndf", "a", "m"]}, "encoding": {"x": {"datum": 6.5}, "y": {"datum": 714}}},
  {"data": {"values": [{}]}, "mark": {"type": "text", "align": "right", "baseline": "middle", "font": "Liberation Sans", "fontSize": 18, "lineHeight": 29, "color": "#2255ff", "text": ["", "14.64 ±", "0.99 ±"]}, "encoding": {"x": {"datum": 27.1}, "y": {"datum": 714}}},
  {"data": {"values": [{}]}, "mark": {"type": "text", "align": "right", "baseline": "middle", "font": "Liberation Sans", "fontSize": 18, "lineHeight": 29, "color": "#2255ff", "text": ["5592.91 / 11", "0.02", "0.00"]}, "encoding": {"x": {"datum": 35.2}, "y": {"datum": 714}}},
  {"data": {"values": [{}]}, "mark": {"type": "text", "align": "left", "baseline": "middle", "font": "Liberation Serif", "fontSize": 20, "color": "#000", "text": "uncalibrated data"}, "encoding": {"x": {"datum": 6.2}, "y": {"datum": 511}}},
  {"data": {"values": [{}]}, "mark": {"type": "text", "align": "left", "baseline": "middle", "font": "Liberation Serif", "fontSize": 20, "color": "#1a1aff", "text": "hybrid calibration"}, "encoding": {"x": {"datum": 6.2}, "y": {"datum": 466}}},
  {"data": {"values": [{}]}, "mark": {"type": "text", "align": "left", "baseline": "middle", "font": "Liberation Serif", "fontSize": 26, "lineHeight": 30, "color": "#000", "text": ["CALICE Preliminary", "Fe-DHCAL"]}, "encoding": {"x": {"datum": 28.6}, "y": {"datum": 239}}},
  {"data": {"values": [{}]}, "mark": {"type": "text", "align": "center", "baseline": "middle", "font": "Liberation Serif", "fontSize": 40, "color": "#000", "text": "(e)"}, "encoding": {"x": {"datum": 55.9}, "y": {"datum": 892}}}
 ]
},
{"width": 466, "height": 451,
 "layer": [
  {"data": {"name": "fit_res"}, "transform": [{"filter": "datum.s === 'uncal' && datum.p === 'dot'"}], "mark": {"type": "line", "color": "#000", "strokeWidth": 2, "strokeDash": [2,2], "clip": true},
   "encoding": {
    "x": {"field": "E", "type": "quantitative", "scale": {"domain": [0,70], "nice": false}, "axis": {"title": "Energy (GeV)", "values": [0,2,4,6,8,10,12,14,16,18,20,22,24,26,28,30,32,34,36,38,40,42,44,46,48,50,52,54,56,58,60,62,64,66,68,70], "tickCount": 200, "format": "d", "labelOverlap": false, "labelExpr": "datum.value % 10 === 0 ? datum.label : ''", "tickSize": {"condition": {"test": "datum.value % 10 === 0", "value": -13}, "value": -7}, "labelPadding": 17, "titlePadding": -5}},
    "y": {"field": "v", "type": "quantitative", "scale": {"domain": [0,0.55], "nice": false}, "axis": {"title": "σ(E)/E", "values": [0,0.02,0.04,0.06,0.08,0.1,0.12,0.14,0.16,0.18,0.2,0.22,0.24,0.26,0.28,0.3,0.32,0.34,0.36,0.38,0.4,0.42,0.44,0.46,0.48,0.5,0.52,0.54], "tickCount": 200, "format": ".1~f", "labelOverlap": false, "labelExpr": "abs(datum.value*10 - round(datum.value*10)) < 0.001 ? datum.label : ''", "tickSize": {"condition": {"test": "abs(datum.value*10 - round(datum.value*10)) < 0.001", "value": -14}, "value": -7}, "labelPadding": 18, "titlePadding": 5}}}},
  {"data": {"name": "fit_res"}, "transform": [{"filter": "datum.s === 'hyb' && datum.p === 'dot'"}], "mark": {"type": "line", "color": "#1f5fff", "strokeWidth": 2, "strokeDash": [2,2], "clip": true}, "encoding": {"x": {"field": "E", "type": "quantitative"}, "y": {"field": "v", "type": "quantitative"}}},
  {"data": {"name": "uncal_res"}, "mark": {"type": "rule", "color": "#000", "strokeWidth": 1.5}, "encoding": {"x": {"field": "E", "type": "quantitative"}, "y": {"field": "lo", "type": "quantitative"}, "y2": {"field": "hi"}}},
  {"data": {"name": "uncal_res"}, "mark": {"type": "point", "shape": "circle", "filled": true, "color": "#000", "size": 55, "opacity": 1}, "encoding": {"x": {"field": "E", "type": "quantitative"}, "y": {"field": "v", "type": "quantitative"}}},
  {"data": {"name": "hyb_res"}, "mark": {"type": "point", "shape": "square", "filled": true, "color": "#1f5fff", "size": 100, "opacity": 1}, "encoding": {"x": {"field": "E", "type": "quantitative"}, "y": {"field": "v", "type": "quantitative"}}},
  {"data": {"name": "fit_res"}, "transform": [{"filter": "datum.s === 'uncal' && datum.p === 'solid'"}], "mark": {"type": "line", "color": "#000", "strokeWidth": 2, "clip": true}, "encoding": {"x": {"field": "E", "type": "quantitative"}, "y": {"field": "v", "type": "quantitative"}}},
  {"data": {"name": "fit_res"}, "transform": [{"filter": "datum.s === 'hyb' && datum.p === 'solid'"}], "mark": {"type": "line", "color": "#1f5fff", "strokeWidth": 2, "clip": true}, "encoding": {"x": {"field": "E", "type": "quantitative"}, "y": {"field": "v", "type": "quantitative"}}},
  {"data": {"values": [{}]}, "mark": {"type": "rect", "fill": "#fff", "stroke": "#333", "strokeWidth": 1}, "encoding": {"x": {"datum": 36.8}, "x2": {"datum": 68.2}, "y": {"datum": 0.5306}, "y2": {"datum": 0.4225}}},
  {"data": {"values": [{}]}, "mark": {"type": "rect", "fill": "#fff", "stroke": "#333", "strokeWidth": 1}, "encoding": {"x": {"datum": 36.8}, "x2": {"datum": 68.2}, "y": {"datum": 0.4055}, "y2": {"datum": 0.2987}}},
  {"data": {"values": [{}]}, "mark": {"type": "text", "align": "left", "baseline": "middle", "font": "Liberation Sans", "fontSize": 18, "lineHeight": 30.5, "color": "#111", "text": ["χ² / ndf", "α", "C"]}, "encoding": {"x": {"datum": 38.1}, "y": {"datum": 0.5124}}},
  {"data": {"values": [{}]}, "mark": {"type": "text", "align": "right", "baseline": "middle", "font": "Liberation Sans", "fontSize": 18, "lineHeight": 30.5, "color": "#111", "text": ["", "0.66 ±", "0.04 ±"]}, "encoding": {"x": {"datum": 58.3}, "y": {"datum": 0.5124}}},
  {"data": {"values": [{}]}, "mark": {"type": "text", "align": "right", "baseline": "middle", "font": "Liberation Sans", "fontSize": 18, "lineHeight": 30.5, "color": "#111", "text": ["250.25 / 7", "0.00", "0.00"]}, "encoding": {"x": {"datum": 66.7}, "y": {"datum": 0.5124}}},
  {"data": {"values": [{}]}, "mark": {"type": "text", "align": "left", "baseline": "middle", "font": "Liberation Sans", "fontSize": 18, "lineHeight": 30.5, "color": "#2255ff", "text": ["χ² / ndf", "α", "C"]}, "encoding": {"x": {"datum": 38.1}, "y": {"datum": 0.3873}}},
  {"data": {"values": [{}]}, "mark": {"type": "text", "align": "right", "baseline": "middle", "font": "Liberation Sans", "fontSize": 18, "lineHeight": 30.5, "color": "#2255ff", "text": ["", "0.64 ±", "0.04 ±"]}, "encoding": {"x": {"datum": 58.3}, "y": {"datum": 0.3873}}},
  {"data": {"values": [{}]}, "mark": {"type": "text", "align": "right", "baseline": "middle", "font": "Liberation Sans", "fontSize": 18, "lineHeight": 30.5, "color": "#2255ff", "text": ["158.93 / 7", "0.00", "0.00"]}, "encoding": {"x": {"datum": 66.7}, "y": {"datum": 0.3873}}},
  {"data": {"values": [{}]}, "mark": {"type": "text", "align": "left", "baseline": "middle", "font": "Liberation Serif", "fontSize": 20, "color": "#000", "text": "uncalibrated data"}, "encoding": {"x": {"datum": 13.3}, "y": {"datum": 0.3765}}},
  {"data": {"values": [{}]}, "mark": {"type": "text", "align": "left", "baseline": "middle", "font": "Liberation Serif", "fontSize": 20, "color": "#1a1aff", "text": "hybrid calibration"}, "encoding": {"x": {"datum": 13.3}, "y": {"datum": 0.352}}},
  {"data": {"values": [{}]}, "mark": {"type": "text", "align": "left", "baseline": "middle", "font": "Liberation Serif", "fontSize": 26, "lineHeight": 29, "color": "#000", "text": ["CALICE Preliminary", "Fe-DHCAL"]}, "encoding": {"x": {"datum": 31.1}, "y": {"datum": 0.2453}}},
  {"data": {"values": [{}]}, "mark": {"type": "text", "align": "center", "baseline": "middle", "font": "Liberation Serif", "fontSize": 40, "color": "#000", "text": "(f)"}, "encoding": {"x": {"datum": 30.7}, "y": {"datum": 0.4808}}}
 ]
}
],
"config": {
 "view": {"stroke": "#222", "strokeWidth": 1},
 "axis": {"labelFont": "Liberation Sans", "labelFontSize": 17, "labelColor": "#222", "titleFont": "Liberation Sans", "titleFontSize": 18, "titleFontWeight": "normal", "titleColor": "#222", "grid": false, "domain": false, "tickColor": "#222", "tickWidth": 1, "labelOverlap": false, "labelFlush": false, "labelBound": false}
}
}
